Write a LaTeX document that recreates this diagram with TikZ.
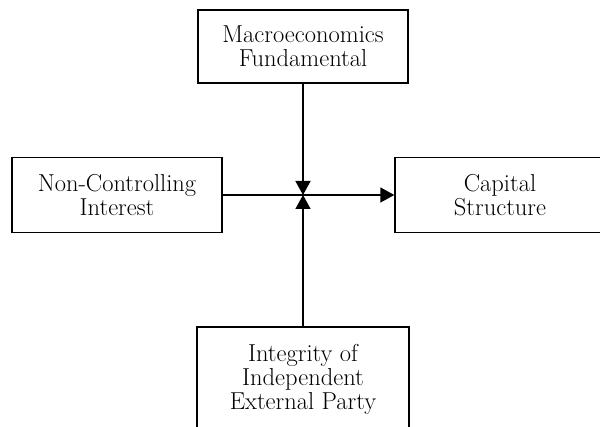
\documentclass[tikz,border=0pt]{standalone}
\usetikzlibrary{arrows.meta}
\tikzset{box/.style={draw=black, line width=1.4pt, minimum width=210pt, align=center, inner sep=0pt,
  font=\fontsize{24.5}{24}\selectfont},
flow/.style={line width=1.4pt, -{Triangle[length=14pt,width=15pt]}}}

\begin{document}
\begin{tikzpicture}[x=1pt,y=1pt]

    \useasboundingbox (0,0) rectangle (600,427);

    \node[box, minimum height=73pt] (macro) at (303,380.5) {Macroeconomics\\Fundamental};
    \node[box, minimum height=75pt] (nci) at (117,232) {Non-Controlling\\Interest};
    \node[box, minimum height=75pt] (cap) at (500,232) {Capital\\Structure};
    \node[box, minimum width=212pt, minimum height=104pt] (integ) at (303,48) {Integrity of\\Independent\\External Party};

    \coordinate (hub) at (303,232);

    \draw[flow] (macro.south) -- (hub);
    \draw[flow] (integ.north) -- (hub);
    \draw[flow] (nci) -- (cap);

  \end{tikzpicture}
\end{document}
